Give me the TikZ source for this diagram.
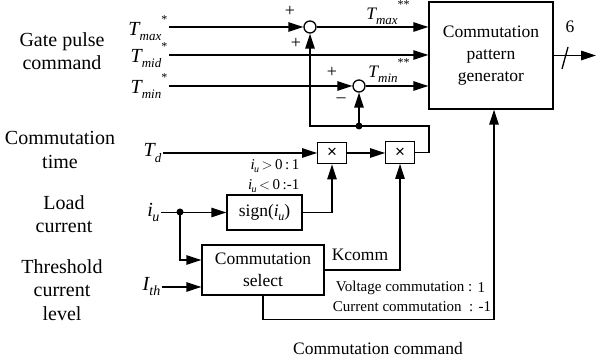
\documentclass[tikz,border=0pt]{standalone}
\usepackage{fontspec}
\setmainfont{Liberation Serif}
\newfontfamily\sansf{Liberation Sans}
\usetikzlibrary{arrows.meta,calc}
\newcommand\Tsym[2]{\textit{T}\kern-1pt\raisebox{-0.28em}{\fontsize{13}{13}\selectfont\textit{#1}}\raisebox{0.6em}{\fontsize{12}{12}\selectfont #2}}
\newcommand\subi[3]{\textit{#1}\kern-0.5pt\raisebox{-0.25em}{\fontsize{#3}{#3}\selectfont\textit{#2}}}
\begin{document}
\begin{tikzpicture}[x=1pt,y=-1pt,line width=1.3pt,
  >={Triangle[length=15pt,width=9.5pt]},
  lbl/.style={font=\fontsize{20}{23.5}\selectfont,align=center,inner sep=0},
  sym/.style={font=\fontsize{20}{20}\selectfont,inner sep=1pt},
  blk/.style={draw,line width=1.3pt,font=\fontsize{17.5}{22}\selectfont,align=center,inner sep=0},
  sumc/.style={circle,draw,fill=white,minimum size=12pt,inner sep=0,line width=1.3pt},
  mult/.style={blk,minimum width=28.5pt,minimum height=21.5pt,font=\sansf\fontsize{17}{17}\selectfont},
  sgn/.style={font=\fontsize{18}{18}\selectfont,inner sep=0},
  cnd/.style={font=\fontsize{15}{15}\selectfont,inner sep=0},
  note/.style={font=\fontsize{15}{15}\selectfont,inner sep=0}]
\useasboundingbox (0,0) rectangle (600,363);
% left labels
\node[lbl] (gpc) at (62,51) {Gate pulse\\command};
\node[lbl] (ctm) at (60,150) {Commutation\\time};
\node[lbl] (lcu) at (64,214) {Load\\current};
\node[lbl] (thr) at (62,290) {Threshold\\current\\level};
\node[lbl] (cc) at (378,349) {\fontsize{17.5}{20}\selectfont Commutation command};
% symbols
\node[sym,anchor=east] (tmax) at (169,28) {\Tsym{max}{*}};
\node[sym,anchor=east] (tmid) at (169,55) {\Tsym{mid}{*}};
\node[sym,anchor=east] (tmin) at (169,86) {\Tsym{min}{*}};
\node[sym,anchor=east] (td) at (163,153) {\Tsym{d}{}};
\node[sym,anchor=east] (iu) at (161,212) {\subi{i}{u}{14}};
\node[sym,anchor=east] (ith) at (162,287) {\subi{I}{th}{14}};
% blocks
\node[blk,minimum width=124pt,minimum height=107pt] (pg) at (491,55.5) {Commutation\\pattern\\generator};
\node[sumc] (s1) at (310,27) {};
\node[sumc] (s2) at (359,86) {};
\node[mult] (m1) at (332,153) {×};
\node[mult] (m2) at (400,152.5) {×};
\node[blk,minimum width=75pt,minimum height=35pt] (sg) at (264.5,212.5) {sign(\subi{i}{u}{12})};
\node[blk,minimum width=122pt,minimum height=50pt] (cs) at (263,270) {Commutation\\select};
% labels
\node[blk,draw=none,anchor=south] (tmx2) at (388,25) {\Tsym{max}{**}};
\node[blk,draw=none,anchor=south] (tmn2) at (389,83) {\Tsym{min}{**}};
\node[sgn] (p1) at (290,11) {+};
\node[sgn] (p2) at (296,43) {+};
\node[sgn] (p3) at (332,72) {+};
\node[sgn] (p4) at (341,100) {\textendash};
\node[cnd,anchor=east] (c1) at (300,166) {\subi{i}{u}{10}\,$>$\,0\,:\,1};
\node[cnd,anchor=east] (c2) at (300,186) {\subi{i}{u}{10}\,$<$\,0\,:-1};
\node[blk,draw=none] (kc) at (360,255) {Kcomm};
\node[note,anchor=east] (vc) at (473,288) {Voltage commutation :};
\node[note,anchor=west] (vc1) at (477,288) {1};
\node[note,anchor=east] (ccm) at (474,307) {Current commutation\ \ :};
\node[note,anchor=west] (cc1) at (478,307) {-1};
\node[blk,draw=none] (six) at (570,27) {6};
% coordinates
\coordinate (fbr) at (429,126);
\coordinate (fbl) at (310,126);
\coordinate (jd) at (359,126);
\coordinate (jiu) at (180,212);
\coordinate (outend) at (596,55.5);
\coordinate (sl) at (565,58);
% connectors
\draw[->] (tmax.east |- s1) -- (s1.west);
\draw[->] (s1.east) -- (s1 -| pg.west);
\draw[->] (tmid.east) -- (tmid.east -| pg.west);
\draw[->] (tmin.east |- s2) -- (s2.west);
\draw[->] (s2.east) -- (s2 -| pg.west);
\draw[->] (m2.east) -| (fbr) -- (fbl) -- (s1.south);
\draw[->] (jd) -- (s2.south);
\fill (jd) circle (3.5);
\draw[->] (td.east |- m1) -- (m1.west);
\draw[->] (m1.east) -- (m1 -| m2.west);
\draw[->] (sg.east) -| (m1.south);
\draw[->] (iu.east |- sg) -- (sg.west);
\draw[->] (jiu) |- ($(cs.west)+(0,-10)$);
\fill (jiu) circle (3.5);
\draw[->] (ith.east) -- (ith.east -| cs.west);
\draw[->] (cs.east) -| (m2.south);
\draw[->] (cs.south) -- ++(0,24) -| ([xshift=3pt]pg.south);
\draw[->] (pg.east |- outend) -- (outend);
\draw ($(sl)+(-3,11)$) -- ($(sl)+(3,-11)$);
\end{tikzpicture}
\end{document}
